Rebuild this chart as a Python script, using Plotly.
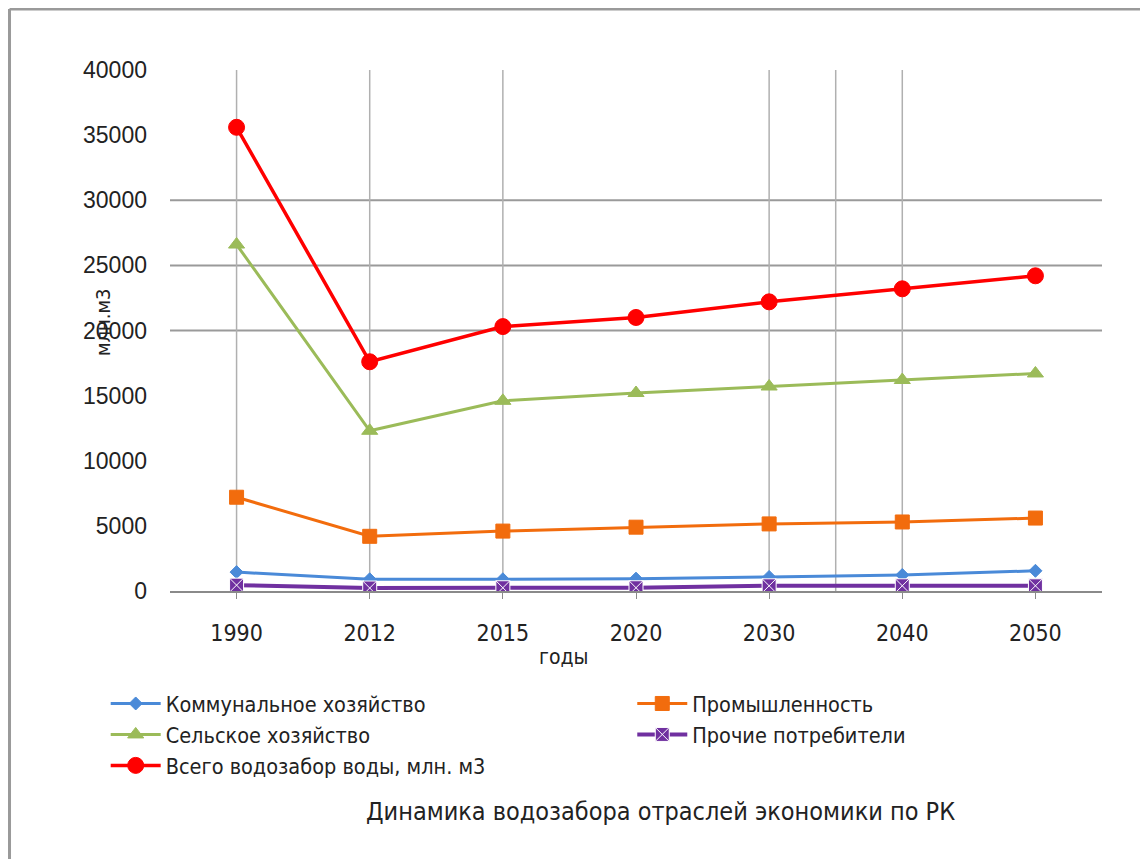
import plotly.graph_objects as go

years = ["1990", "2012", "2015", "2020", "2030", "2040", "2050"]
communal = [1450, 900, 900, 950, 1080, 1230, 1550]
industry = [7200, 4200, 4600, 4900, 5150, 5300, 5600]
agriculture = [26600, 12300, 14600, 15200, 15700, 16200, 16700]
other = [450, 230, 250, 250, 400, 400, 400]
total = [35600, 17600, 20300, 21000, 22200, 23200, 24200]

names = ["Коммунальное хозяйство", "Промышленность", "Сельское хозяйство",
         "Прочие потребители", "Всего водозабор воды, млн. м3"]
colors = ["#4A8AD8", "#F26C0D", "#9BBB59", "#7030A0", "#FF0000"]
symbols = ["diamond", "square", "triangle-up", "square-x", "circle"]
sizes = [10, 14, 14, 14, 16]
widths = [3, 3, 3, 4, 3.5]
legend_ids = ["legend", "legend2", "legend", "legend2", "legend"]
series = [communal, industry, agriculture, other, total]

grid_y = [20000, 25000, 30000]
grid_x = [0, 1, 2, 4, 4.5, 5]

NARROW = "DejaVu Sans Condensed, Liberation Sans Narrow, Liberation Sans, Arial"
REG = "Liberation Sans, Arial"

fig = go.Figure()
for n, c, s, sz, w, lg, v in zip(names, colors, symbols, sizes, widths, legend_ids, series):
    fig.add_trace(go.Scatter(
        x=list(range(len(years))), y=v, name=n, mode="lines+markers", legend=lg,
        line=dict(color=c, width=w),
        marker=dict(symbol=s, size=sz, color=c,
                    line=dict(color="#ffffff" if s == "square-x" else c, width=1)),
    ))

shapes = []
for gy in grid_y:
    shapes.append(dict(type="line", xref="x", yref="y", x0=-0.5, x1=6.5, y0=gy, y1=gy,
                       line=dict(color="#9a9a9a", width=2), layer="below"))
for gx in grid_x:
    shapes.append(dict(type="line", xref="x", yref="y", x0=gx, x1=gx, y0=0, y1=40000,
                       line=dict(color="#b0b0b0", width=1.5), layer="below"))
# outer frame (left and top edges)
shapes.append(dict(type="line", xref="paper", yref="paper", x0=-0.1722, x1=-0.1722,
                   y0=1.117, y1=-0.52, line=dict(color="#9a9a9a", width=3)))
shapes.append(dict(type="line", xref="paper", yref="paper", x0=-0.1722, x1=1.06,
                   y0=1.117, y1=1.117, line=dict(color="#9a9a9a", width=3)))

legend_font = dict(family=NARROW, size=21.5, color="#222222")

fig.update_layout(
    width=1140, height=851,
    margin=dict(l=162, r=46, t=62, b=268),
    paper_bgcolor="white", plot_bgcolor="white",
    showlegend=True,
    shapes=shapes,
    xaxis=dict(
        tickmode="array", tickvals=list(range(len(years))), ticktext=years,
        range=[-0.5, 6.5], showgrid=False, zeroline=False,
        showline=True, linecolor="#8a8a8a", linewidth=2,
        ticks="outside", tickson="boundaries", ticklen=6, tickcolor="#8a8a8a",
        tickfont=dict(family=NARROW, size=23, color="#222222"),
        ticklabelstandoff=14,
    ),
    yaxis=dict(
        range=[0, 40000], tickvals=[0, 5000, 10000, 15000, 20000, 25000, 30000, 35000, 40000],
        ticktext=["0", "5000", "10000", "15000", "20000", "25000", "30000", "35000", "40000"],
        showgrid=False, zeroline=False, showline=False,
        tickfont=dict(family=REG, size=23, color="#222222"),
        ticklabelstandoff=22,
    ),
    legend=dict(
        orientation="v", x=-0.069, y=-0.1766, xanchor="left", yanchor="top",
        font=legend_font, bgcolor="rgba(0,0,0,0)", tracegroupgap=0, itemwidth=50,
    ),
    legend2=dict(
        orientation="v", x=0.496, y=-0.1766, xanchor="left", yanchor="top",
        font=legend_font, bgcolor="rgba(0,0,0,0)", tracegroupgap=0, itemwidth=50,
    ),
    annotations=[
        dict(text="млн.м3", xref="paper", yref="paper", x=-0.072, y=0.516, textangle=-90,
             xanchor="center", yanchor="middle",
             showarrow=False, font=dict(family=NARROW, size=20, color="#222222")),
        dict(text="годы", xref="paper", yref="paper", x=(563 - 170) / 932, y=(591 - 657) / 521,
             xanchor="center", yanchor="middle",
             showarrow=False, font=dict(family=NARROW, size=21, color="#222222")),
        dict(text="Динамика водозабора отраслей экономики по РК", xref="paper", yref="paper",
             x=(660 - 170) / 932, y=(591 - 811) / 521, xanchor="center", yanchor="middle",
             showarrow=False, font=dict(family=NARROW, size=25, color="#222222")),
    ],
)

fig.write_html("out.html")
